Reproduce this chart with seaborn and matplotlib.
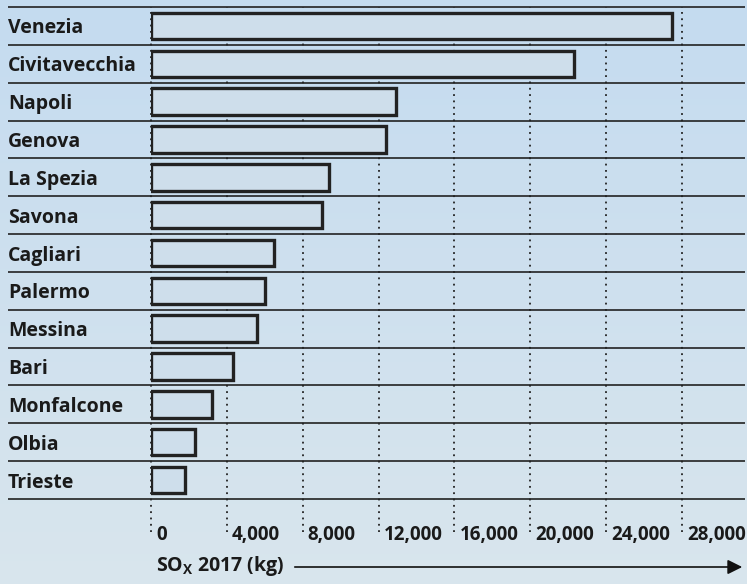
import matplotlib.pyplot as plt
import matplotlib.transforms as mtransforms
import numpy as np
import seaborn as sns
import pandas as pd

ports = ['Venezia', 'Civitavecchia', 'Napoli', 'Genova', 'La Spezia', 'Savona',
         'Cagliari', 'Palermo', 'Messina', 'Bari', 'Monfalcone', 'Olbia', 'Trieste']
sox_2017 = [27500, 22300, 12900, 12400, 9400, 9000, 6500, 6000, 5600, 4300, 3200, 2300, 1800]
x_ticks = [0, 4000, 8000, 12000, 16000, 20000, 24000, 28000]
x_ticklabels = ['0', '4,000', '8,000', '12,000', '16,000', '20,000', '24,000', '28,000']

sns.set_theme(style='white')
plt.rcParams['font.family'] = ['Open Sans', 'DejaVu Sans']

df = pd.DataFrame({'port': ports, 'sox': sox_2017})

W, H = 747, 584
fig = plt.figure(figsize=(W / 100, H / 100), dpi=100)

# background gradient
bg = fig.add_axes([0, 0, 1, 1], zorder=-10)
top = np.array([0.77, 0.86, 0.94])
bot = np.array([0.85, 0.90, 0.93])
grad = np.linspace(0, 1, 200)[:, None, None] * (bot - top) + top
bg.imshow(np.repeat(grad, 2, axis=1), aspect='auto', extent=[0, 1, 0, 1])
bg.set_axis_off()

left, right = 151 / W, 745 / W
ax_top, ax_bot = 1 - 7 / H, 1 - 499 / H
ax = fig.add_axes([left, ax_bot, right - left, ax_top - ax_bot])
ax.patch.set_alpha(0)

sns.barplot(data=df, x='sox', y='port', orient='h', ax=ax, width=0.7,
            color='#c9def0', edgecolor='#222222', linewidth=2.4, zorder=3)

ax.set_xlim(0, 31330)
ax.set_ylim(12.5, -0.5)
for s in ax.spines.values():
    s.set_visible(False)

# dotted gridlines extending below the axes
ax.vlines(x_ticks, -33 / 492, 1, transform=ax.get_xaxis_transform(),
          colors='#222222', linestyles=(0, (1, 2.5)), linewidth=1.3,
          clip_on=False, zorder=1)

# row separators across the full width
ax.hlines(np.arange(-0.5, 13, 1), -143 / 594, 1, transform=ax.get_yaxis_transform(),
          colors='#222222', linewidth=1.2, clip_on=False, zorder=4)

ax.set_xticks(x_ticks)
ax.set_xticklabels(x_ticklabels, ha='left', fontsize=13.5, fontweight='bold',
                   color='#1a1a1a')
ax.tick_params(axis='x', length=0, pad=19)
offset = mtransforms.ScaledTranslation(5 / 100, 0, fig.dpi_scale_trans)
for lab in ax.get_xticklabels():
    lab.set_transform(lab.get_transform() + offset)

ax.set_yticks(range(len(ports)))
ax.set_yticklabels(ports, ha='left', fontsize=14, fontweight='bold', color='#1a1a1a')
ax.tick_params(axis='y', length=0, pad=143 * 0.72)
ax.set_xlabel('')
ax.set_ylabel('')

fig.text(156 / W, 1 - 566 / H, r'SO$_\mathregular{X}$ 2017 (kg)', fontsize=14,
         fontweight='bold', color='#1a1a1a', va='center', ha='left')
ax.annotate('', xy=(745, H - 567), xytext=(292, H - 567), xycoords='figure pixels',
            textcoords='figure pixels',
            arrowprops=dict(arrowstyle='-|>', color='#111111', lw=1.2, mutation_scale=22))

fig.savefig('out.png', dpi=100)
